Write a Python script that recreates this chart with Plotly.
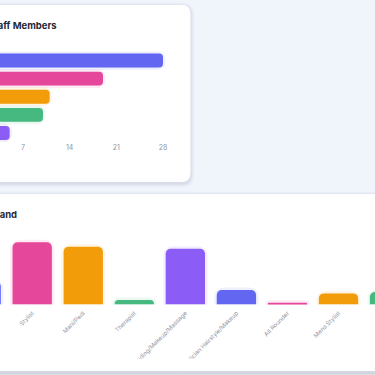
import plotly.graph_objects as go

W = H = 375

# ---- data ----
top_title = "Branches by Staff Members"
top_categories = ["Downtown", "Uptown", "City Mall", "Airport", "Suburbs"]
top_values = [28, 19, 11, 10, 5]
top_ticks = [0, 7, 14, 21, 28]

bottom_title = "Roles in Demand"
bottom_categories = ["Receptionist", "Stylist", "Mani/Pedi", "Therapist",
                     "Threading/Makeup/Massage", "Beautician Hairstyle/Makeup",
                     "All Rounder", "Mens Stylist", "Massage/Men Body Care"]
bottom_values = [10.3, 28, 26, 2, 25.1, 6.5, 0.8, 5, 5.6]

palette = ["#6366f1", "#e5479a", "#f29c0a", "#45b97f", "#8b5cf6"]


def X(px):
    return px / W


def Y(py):
    return 1 - py / H


def rgba(hexc, a):
    h = hexc.lstrip("#")
    return f"rgba({int(h[0:2],16)},{int(h[2:4],16)},{int(h[4:6],16)},{a})"


def rrect(x0, y0, x1, y1, r):
    a, b, c, d = X(x0), Y(y0), X(x1), Y(y1)
    rx, ry = r / W, r / H
    return (f"M{a+rx},{b} L{c-rx},{b} Q{c},{b} {c},{b-ry} L{c},{d+ry} "
            f"Q{c},{d} {c-rx},{d} L{a+rx},{d} Q{a},{d} {a},{d+ry} "
            f"L{a},{b-ry} Q{a},{b} {a+rx},{b} Z")


shapes = []
# bottom strip
shapes.append(dict(type="rect", xref="paper", yref="paper", x0=0, x1=1,
                   y0=Y(375), y1=Y(371.5), fillcolor="#e8eaef", line_width=0,
                   layer="below"))


def card(x0, y0, x1, y1, r):
    for i, op in enumerate([0.018, 0.022, 0.028, 0.035]):
        g = 4 - i
        shapes.append(dict(type="path", xref="paper", yref="paper",
                           path=rrect(x0 - g, y0 - g + 1.5, x1 + g, y1 + g + 1.5, r + g),
                           fillcolor=f"rgba(30,41,80,{op})", line_width=0, layer="below"))
    shapes.append(dict(type="path", xref="paper", yref="paper",
                       path=rrect(x0, y0, x1, y1, r), fillcolor="#ffffff",
                       line_width=0, layer="below"))


card(-30, 5, 190.5, 182, 9)
card(-30, 194, 420, 371, 9)

# clip the rotated labels at the chart canvas bottom (as in the dashboard)
shapes.append(dict(type="rect", xref="paper", yref="paper", x0=0, x1=1,
                   y0=Y(370.5), y1=Y(358.5), fillcolor="#ffffff", line_width=0,
                   layer="above"))

fig = go.Figure()

colors_top = [palette[i % 5] for i in range(len(top_values))]
colors_bot = [palette[i % 5] for i in range(len(bottom_values))]

# soft glow behind bars
fig.add_trace(go.Bar(
    x=top_values, y=top_categories, orientation="h",
    marker=dict(color=[rgba(c, 0.10) for c in colors_top], cornerradius=6,
                line=dict(color=[rgba(c, 0.10) for c in colors_top], width=5)),
    xaxis="x", yaxis="y", showlegend=False, hoverinfo="skip"))
fig.add_trace(go.Bar(
    x=top_values, y=top_categories, orientation="h",
    marker=dict(color=colors_top, cornerradius=4, line_width=0),
    xaxis="x", yaxis="y", showlegend=False, hoverinfo="x+y"))

fig.add_trace(go.Bar(
    x=bottom_categories, y=bottom_values,
    marker=dict(color=[rgba(c, 0.10) for c in colors_bot], cornerradius=7,
                line=dict(color=[rgba(c, 0.10) for c in colors_bot], width=5)),
    xaxis="x2", yaxis="y2", showlegend=False, hoverinfo="skip"))
fig.add_trace(go.Bar(
    x=bottom_categories, y=bottom_values,
    marker=dict(color=colors_bot, cornerradius=5, line_width=0),
    xaxis="x2", yaxis="y2", showlegend=False))

font_family = "Inter, 'Open Sans', sans-serif"
tick_font = dict(family=font_family, size=7, color="#8f949c")

fig.update_layout(
    width=W, height=H,
    margin=dict(l=0, r=0, t=0, b=0),
    paper_bgcolor="#f0f4fb",
    plot_bgcolor="rgba(0,0,0,0)",
    shapes=shapes,
    barmode="overlay",
    bargap=0.23,
    xaxis=dict(domain=[0, 176 / W], range=[3.55, 29.95], tickvals=top_ticks,
               showgrid=False, zeroline=False, showline=False, ticks="",
               tickfont=tick_font, anchor="y", fixedrange=True),
    yaxis=dict(domain=[Y(142), Y(51.5)], autorange="reversed", showgrid=False,
               zeroline=False, showline=False, ticks="", showticklabels=False,
               anchor="x", fixedrange=True),
    xaxis2=dict(domain=[0, 1], range=[0.369, 7.715], showgrid=False, zeroline=False,
                showline=False, ticks="", tickangle=-45, ticklabelstandoff=3,
                tickfont=dict(family=font_family, size=6, color="#8f949c"),
                anchor="y2", fixedrange=True),
    yaxis2=dict(domain=[Y(304.5), Y(230)], range=[0, 33.56], showgrid=False,
                zeroline=False, showline=False, ticks="", showticklabels=False,
                anchor="x2", fixedrange=True),
    annotations=[
        dict(text="<b>" + top_title + "</b>", xref="paper", yref="paper",
             x=X(59), y=Y(25.5), xanchor="right", yanchor="middle", showarrow=False,
             font=dict(family=font_family, size=9.5, color="#1f2937")),
        dict(text="<b>" + bottom_title + "</b>", xref="paper", yref="paper",
             x=X(18.5), y=Y(214.5), xanchor="right", yanchor="middle", showarrow=False,
             font=dict(family=font_family, size=9.5, color="#1f2937")),
    ],
)

fig.write_html("out.html", config={"displayModeBar": False},
               post_script="document.body.style.margin='0';document.body.style.overflow='hidden';")
